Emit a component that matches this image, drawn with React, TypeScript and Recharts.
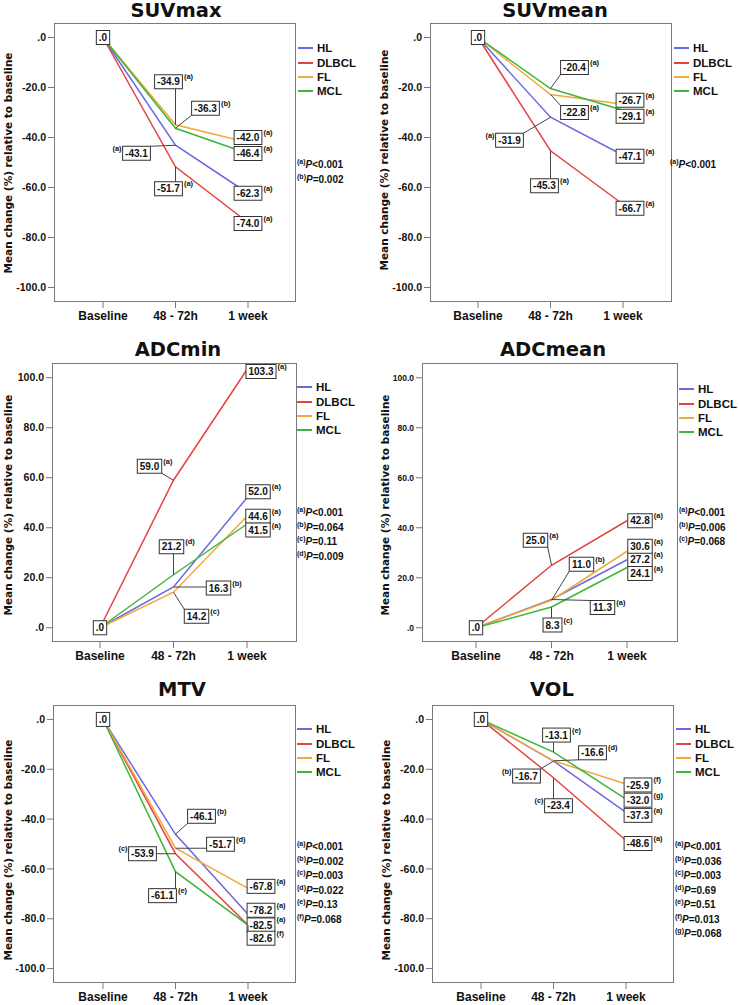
import { LineChart, Line, XAxis, YAxis, Legend } from "recharts";

const timepoints = ["Baseline", "48 - 72h", "1 week"];
const groups = ["HL", "DLBCL", "FL", "MCL"];
const colors = ["#6a6ae2", "#e2443f", "#f2a93a", "#3fb53f"];

// values per group (HL, DLBCL, FL, MCL) at baseline / 48-72h / 1 week
const suvmaxValues = [[0, -43.1, -62.3], [0, -51.7, -74.0], [0, -34.9, -42.0], [0, -36.3, -46.4]];
const suvmeanValues = [[0, -31.9, -47.1], [0, -45.3, -66.7], [0, -22.8, -26.7], [0, -20.4, -29.1]];
const adcminValues = [[0, 16.3, 52.0], [0, 59.0, 103.3], [0, 14.2, 44.6], [0, 21.2, 41.5]];
const adcmeanValues = [[0, 11.3, 27.2], [0, 25.0, 42.8], [0, 11.0, 30.6], [0, 8.3, 24.1]];
const mtvValues = [[0, -46.1, -78.2], [0, -53.9, -82.5], [0, -51.7, -67.8], [0, -61.1, -82.6]];
const volValues = [[0, -16.7, -37.3], [0, -23.4, -48.6], [0, -16.6, -25.9], [0, -13.1, -32.0]];

// significance letters on each label
const suvmaxSup = [["", "a", "a"], ["", "a", "a"], ["", "a", "a"], ["", "b", "a"]];
const suvmeanSup = [["", "a", "a"], ["", "a", "a"], ["", "a", "a"], ["", "a", "a"]];
const adcminSup = [["", "b", "a"], ["", "a", "a"], ["", "c", "a"], ["", "d", "a"]];
const adcmeanSup = [["", "a", "a"], ["", "a", "a"], ["", "b", "a"], ["", "c", "a"]];
const mtvSup = [["", "b", "a"], ["", "c", "a"], ["", "d", "a"], ["", "e", "f"]];
const volSup = [["", "b", "a"], ["", "c", "a"], ["", "d", "f"], ["", "e", "g"]];

const suvmaxNotes = [["a", "<0.001"], ["b", "=0.002"]];
const suvmeanNotes = [["a", "<0.001"]];
const adcminNotes = [["a", "<0.001"], ["b", "=0.064"], ["c", "=0.11"], ["d", "=0.009"]];
const adcmeanNotes = [["a", "<0.001"], ["b", "=0.006"], ["c", "=0.068"]];
const mtvNotes = [["a", "<0.001"], ["b", "=0.002"], ["c", "=0.003"], ["d", "=0.022"], ["e", "=0.13"], ["f", "=0.068"]];
const volNotes = [["a", "<0.001"], ["b", "=0.036"], ["c", "=0.003"], ["d", "=0.69"], ["e", "=0.51"], ["f", "=0.013"], ["g", "=0.068"]];

const negTicks = [0, -20, -40, -60, -80, -100];
const posTicks = [0, 20, 40, 60, 80, 100];

// label box placement: [dx, dy, superscript on left]
type Pos = [number, number, boolean?] | null;

const LIB = '"Liberation Sans", Arial, sans-serif';
const DJV = '"DejaVu Sans", sans-serif';
const FRAME = "#7a7a7a";

const fmt = (v: number) => (v === 0 ? ".0" : v.toFixed(1));
const textW = (s: string, fs: number) =>
  [...s].reduce((a, c) => a + (c === "-" ? 0.333 : c === "." ? 0.278 : 0.556) * fs, 0);
const clamp = (v: number, a: number, b: number) => Math.max(a, Math.min(b, v));

const panels = [
  {
    title: "SUVmax", values: suvmaxValues, sups: suvmaxSup, notes: suvmaxNotes,
    x: 0, y: 0, frame: { l: 54, r: 296, t: 23, b: 302 }, pad: [49, 48],
    domain: [-105.8, 5.8], ticks: negTicks, tickFs: 10.5,
    titleX: 176, titleY: 11, labelX: 8, labelY: 163, legendX: 298, legendY: 48, notesX: 297, notesY: 162,
    pos: [
      [null, [-39, 8, true], [0, 0]],
      [null, [-7, 22], [0, 1]],
      [null, [-7, -43], [0, -5]],
      [[0, 0], [30, -20], [0, 0]],
    ] as Pos[][],
  },
  {
    title: "SUVmean", values: suvmeanValues, sups: suvmeanSup, notes: suvmeanNotes,
    x: 370, y: 0, frame: { l: 60, r: 302, t: 23, b: 302 }, pad: [48, 49],
    domain: [-105.8, 5.8], ticks: negTicks, tickFs: 10.5,
    titleX: 185, titleY: 11, labelX: 14, labelY: 160, legendX: 304, legendY: 48, notesX: 300, notesY: 162,
    pos: [
      [null, [-41, 23, true], [7, 1]],
      [null, [-6, 35], [7, 4]],
      [null, [24, 18], [7, -4]],
      [[0, 0], [24, -21], [7, 6]],
    ] as Pos[][],
  },
  {
    title: "ADCmin", values: adcminValues, sups: adcminSup, notes: adcminNotes,
    x: 0, y: 330, frame: { l: 52, r: 297, t: 33, b: 312 }, pad: [48, 50],
    domain: [-5.7, 105.9], ticks: posTicks, tickFs: 10.5,
    titleX: 178, titleY: 20, labelX: 8, labelY: 175, legendX: 297, legendY: 57, notesX: 297, notesY: 180,
    pos: [
      [null, [45, 1], [11, -6]],
      [null, [-24, -14], [14, 2]],
      [null, [23, 24], [11, 0]],
      [[0, 0], [-2, -28], [11, 6]],
    ] as Pos[][],
  },
  {
    title: "ADCmean", values: adcmeanValues, sups: adcmeanSup, notes: adcmeanNotes,
    x: 370, y: 330, frame: { l: 52, r: 308, t: 33, b: 312 }, pad: [54, 51],
    domain: [-5.7, 105.9], ticks: posTicks, tickFs: 8.5,
    titleX: 183, titleY: 20, labelX: 15, labelY: 175, legendX: 309, legendY: 59, notesX: 309, notesY: 180,
    pos: [
      [null, [51, 8], [13, 0]],
      [null, [-16, -25], [13, 0]],
      [null, [30, -36], [13, -5]],
      [[0, 0], [1, 18], [13, 6]],
    ] as Pos[][],
  },
  {
    title: "MTV", values: mtvValues, sups: mtvSup, notes: mtvNotes,
    x: 0, y: 660, frame: { l: 53, r: 296, t: 45, b: 323 }, pad: [50, 48],
    domain: [-105.8, 5.8], ticks: negTicks, tickFs: 10.5,
    titleX: 182, titleY: 30, labelX: 8, labelY: 190, legendX: 297, legendY: 69, notesX: 297, notesY: 184,
    pos: [
      [null, [26, -18], [13, -4]],
      [null, [-33, 0, true], [13, 0]],
      [null, [45, -4], [13, -2]],
      [[0, 0], [-13, 24], [13, 13]],
    ] as Pos[][],
  },
  {
    title: "VOL", values: volValues, sups: volSup, notes: volNotes,
    x: 370, y: 660, frame: { l: 62, r: 304, t: 45, b: 323 }, pad: [49, 48],
    domain: [-105.8, 5.8], ticks: negTicks, tickFs: 10.5,
    titleX: 182, titleY: 30, labelX: 16, labelY: 190, legendX: 306, legendY: 69, notesX: 305, notesY: 184,
    pos: [
      [null, [-27, 15, true], [12, 3]],
      [null, [5, 28, true], [12, 3]],
      [null, [39, -8], [12, 1]],
      [[0, 0], [3, -17], [12, 1]],
    ] as Pos[][],
  },
];

type Cfg = (typeof panels)[number];

// boxed value label with leader line, drawn as the dot of an invisible overlay line
const makeLabel = (cfg: Cfg, k: number) => (p: any) => {
  const spec = cfg.pos[k][p.index];
  if (!spec || p.cx == null || p.cy == null) return <g key={`n${k}-${p.index}`} />;
  const [dx, dy, supLeft] = spec;
  const str = fmt(cfg.values[k][p.index]);
  const fs = 10;
  const w = textW(str, fs) + 5;
  const h = 14;
  const cx = p.cx + dx;
  const cy = p.cy + dy;
  const left = cx - w / 2;
  const top = cy - h / 2;
  const nx = clamp(p.cx, left, left + w);
  const ny = clamp(p.cy, top, top + h);
  const far = Math.hypot(nx - p.cx, ny - p.cy) > 1;
  const sup = cfg.sups[k][p.index];
  return (
    <g key={`l${k}-${p.index}`}>
      {far && <line x1={p.cx} y1={p.cy} x2={nx} y2={ny} stroke="#444" strokeWidth={1} />}
      <rect x={left} y={top} width={w} height={h} fill="#fff" stroke="#333" strokeWidth={1} />
      <text x={cx} y={cy + 3.6} textAnchor="middle" fontSize={fs} fontWeight="bold" fontFamily={LIB} fill="#111">
        {str}
      </text>
      {sup && (
        <text
          x={supLeft ? left - 1 : left + w + 1.5}
          y={top + 4.5}
          textAnchor={supLeft ? "end" : "start"}
          fontSize={7.5}
          fontWeight="bold"
          fontFamily={LIB}
          fill="#111"
        >
          ({sup})
        </text>
      )}
    </g>
  );
};

const GroupLegend = () => (
  <div style={{ fontFamily: LIB, fontWeight: "bold", fontSize: 11.5, color: "#111" }}>
    {groups.map((g, k) => (
      <div key={g} style={{ display: "flex", alignItems: "center", height: 14.4 }}>
        <span style={{ display: "inline-block", width: 15, height: 0, borderTop: `2px solid ${colors[k]}`, marginRight: 4 }} />
        {g}
      </div>
    ))}
  </div>
);

function Panel({ cfg }: { cfg: Cfg }) {
  const rows = timepoints.map((t, i) => {
    const r: Record<string, number | string> = { t };
    groups.forEach((g, k) => (r[g] = cfg.values[k][i]));
    return r;
  });
  const W = 370;
  const H = cfg.frame.b + 30;
  const f = cfg.frame;
  return (
    <div style={{ position: "absolute", left: cfg.x, top: cfg.y, width: W, height: H }}>
      <LineChart
        width={W}
        height={H}
        data={rows}
        margin={{ top: f.t, right: W - f.r, bottom: 10, left: f.l - 40 }}
      >
        <XAxis
          dataKey="t"
          interval={0}
          padding={{ left: cfg.pad[0], right: cfg.pad[1] }}
          height={20}
          axisLine={false}
          tickLine={{ stroke: FRAME }}
          tickSize={6}
          tickMargin={3}
          tick={{ fontSize: 12, fontWeight: "bold", fill: "#111", fontFamily: LIB }}
        />
        <YAxis
          type="number"
          domain={cfg.domain}
          ticks={cfg.ticks}
          allowDataOverflow
          width={40}
          axisLine={false}
          tickLine={{ stroke: FRAME }}
          tickSize={6}
          tickMargin={2}
          tickFormatter={fmt}
          tick={{ fontSize: cfg.tickFs, fontWeight: "bold", fill: "#111", fontFamily: LIB }}
        />
        {groups.map((g, k) => (
          <Line
            key={g}
            dataKey={g}
            type="linear"
            stroke={colors[k]}
            strokeWidth={1.5}
            dot={false}
            activeDot={false}
            isAnimationActive={false}
          />
        ))}
        {groups.map((g, k) => (
          <Line
            key={`lab-${g}`}
            dataKey={g}
            stroke="none"
            legendType="none"
            dot={makeLabel(cfg, k)}
            activeDot={false}
            isAnimationActive={false}
          />
        ))}
        <Legend
          layout="vertical"
          align="center"
          verticalAlign="middle"
          content={() => <GroupLegend />}
          wrapperStyle={{ left: cfg.legendX, top: cfg.legendY - 7, width: 70 }}
        />
      </LineChart>
      <div
        style={{
          position: "absolute", left: f.l, top: f.t, width: f.r - f.l, height: f.b - f.t,
          border: `1px solid ${FRAME}`, boxSizing: "border-box", pointerEvents: "none",
        }}
      />
      <div
        style={{
          position: "absolute", left: cfg.titleX, top: cfg.titleY, transform: "translate(-50%, -50%)",
          fontFamily: DJV, fontWeight: "bold", fontSize: 19.5, color: "#111", whiteSpace: "nowrap", lineHeight: 1,
        }}
      >
        {cfg.title}
      </div>
      <div
        style={{
          position: "absolute", left: cfg.labelX, top: cfg.labelY, transform: "translate(-50%, -50%) rotate(-90deg)",
          fontFamily: DJV, fontWeight: "bold", fontSize: 10.5, color: "#111", whiteSpace: "nowrap", lineHeight: 1,
        }}
      >
        Mean change (%) relative to baseline
      </div>
      {cfg.notes.map(([l, txt], i) => (
        <div
          key={l}
          style={{
            position: "absolute", left: cfg.notesX, top: cfg.notesY + i * 14.5 - 7,
            fontFamily: LIB, fontWeight: "bold", fontSize: 10, color: "#111", whiteSpace: "nowrap", lineHeight: "14px",
          }}
        >
          <span style={{ fontSize: 7, verticalAlign: 4 }}>({l})</span>
          <i>P</i>
          {txt}
        </div>
      ))}
    </div>
  );
}

export default function App() {
  return (
    <div style={{ position: "absolute", left: 0, top: 0, width: 739, height: 1005, background: "#fff", overflow: "hidden" }}>
      {panels.map((cfg) => (
        <Panel key={cfg.title} cfg={cfg} />
      ))}
    </div>
  );
}
